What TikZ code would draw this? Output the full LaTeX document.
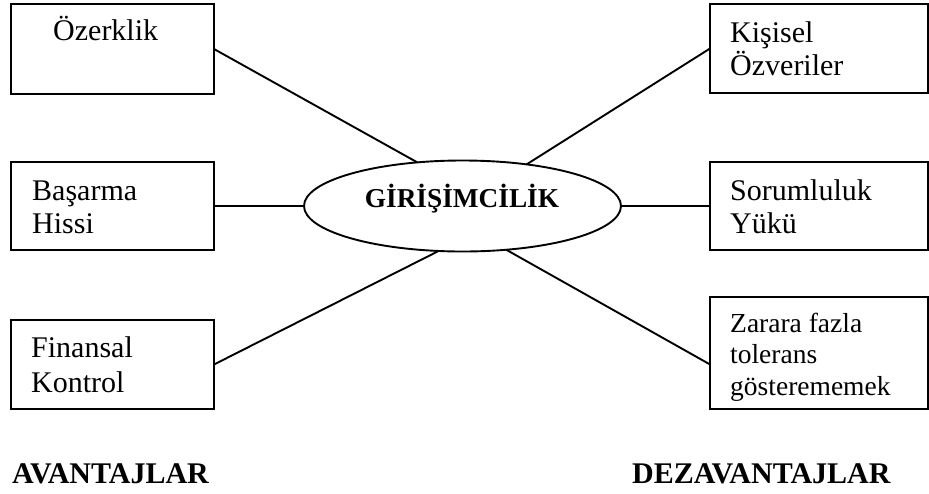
\documentclass[tikz,border=0pt]{standalone}
\usepackage{fontspec}
\setmainfont{Liberation Serif}
\usetikzlibrary{shapes.geometric}

\begin{document}
\begin{tikzpicture}[x=1pt,y=-1pt,
  box/.style={draw, line width=1.9pt, inner sep=0pt, outer sep=0pt,
              anchor=north west, minimum width=#1},
  leftbox/.style={box=203pt},
  rightbox/.style={box=218pt},
  txt/.style={anchor=north west, inner sep=0pt, align=left,
              font=\fontsize{30}{33.5}\selectfont},
  smalltxt/.style={txt, font=\fontsize{27.5}{31.5}\selectfont},
  link/.style={line width=1.9pt},
  heading/.style={anchor=base west, inner sep=0pt,
                  font=\bfseries\fontsize{30}{34}\selectfont}]

  % canvas
  \fill[white] (0,0) rectangle (929,493);
  \useasboundingbox (0,0) rectangle (929,493);

  % centre ellipse
  \node[draw, ellipse, line width=1.9pt, inner sep=0pt, outer sep=0pt,
        minimum width=317pt, minimum height=91pt] (ent) at (462.5,206) {};
  \node[anchor=base, inner sep=0pt,
        font=\bfseries\fontsize{27.3}{30}\selectfont] (entlbl) at (462,207)
        {GİRİŞİMCİLİK};

  % advantages (left)
  \node[leftbox, minimum height=90pt] (ozr) at (11,4) {};
  \node[leftbox, minimum height=88pt] (bas) at (11,162) {};
  \node[leftbox, minimum height=89pt] (fin) at (11,320) {};

  \node[anchor=base west, inner sep=0pt, font=\fontsize{30}{33.5}\selectfont]
        (ozrlbl) at (53,40) {Özerklik};
  \node[txt] (baslbl) at (32,172) {\rule{0pt}{28pt}Başarma\\Hissi};
  \node[txt, font=\fontsize{30}{35}\selectfont] (finlbl) at (31,329)
        {\rule{0pt}{28pt}Finansal\\Kontrol};

  % disadvantages (right)
  \node[rightbox, minimum height=89pt] (kis) at (710,4) {};
  \node[rightbox, minimum height=88pt] (sor) at (710,162) {};
  \node[rightbox, minimum height=112pt] (zar) at (710,297) {};

  \node[txt, font=\fontsize{30}{33}\selectfont] (kislbl) at (730,14)
        {\rule{0pt}{28pt}Kişisel\\Özveriler};
  \node[txt, font=\fontsize{30}{33}\selectfont] (sorlbl) at (730,172)
        {\rule{0pt}{28pt}Sorumluluk\\Yükü};
  \node[smalltxt] (zarlbl) at (730,304)
        {\rule{0pt}{28pt}Zarara fazla\\tolerans\\gösterememek};

  % connectors
  \draw[link] (ozr.east) -- (ent.136);
  \draw[link] (bas.east) -- (ent.west);
  \draw[link] (fin.east) -- (ent.242);
  \draw[link] (kis.west) -- (ent.33.5);
  \draw[link] (sor.west) -- (ent.east);
  \draw[link] (zar.186) -- (ent.315);

  % column headings
  \node[heading] (adv) at (12,483) {AVANTAJLAR};
  \node[heading] (dis) at (632,483) {DEZAVANTAJLAR};
\end{tikzpicture}
\end{document}
